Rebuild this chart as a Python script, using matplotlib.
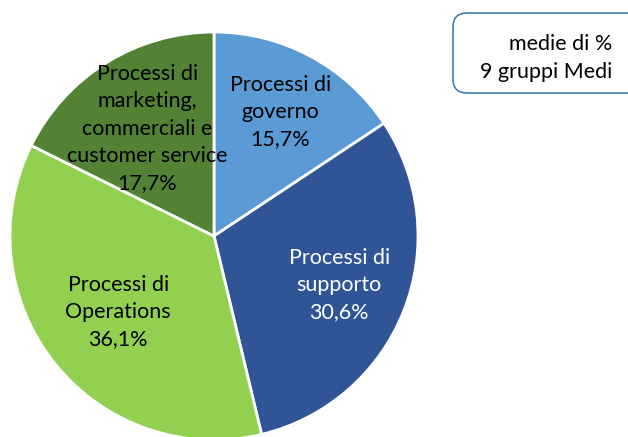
import numpy as np
import matplotlib
matplotlib.use("Agg")
import matplotlib.pyplot as plt
from matplotlib.patches import FancyBboxPatch

categories = [
    "Processi di\ngoverno",
    "Processi di\nsupporto",
    "Processi di\nOperations",
    "Processi di\nmarketing,\ncommerciali e\ncustomer service",
]
shares = [15.7, 30.6, 36.1, 17.7]
colors = ["#5B9BD5", "#2F5597", "#92D050", "#548235"]
text_colors = ["black", "white", "black", "black"]
box_lines = ["medie di %", "9 gruppi Medi"]

# label distance from centre, per slice (fraction of radius)
label_radius = [0.69, 0.66, 0.60, 0.62]

plt.rcParams["font.family"] = ["Lato", "DejaVu Sans"]

fig = plt.figure(figsize=(6.28, 4.37), dpi=100)
ax = fig.add_axes([10 / 628, -3 / 437, 408 / 628, 408 / 437])

wedges, _ = ax.pie(
    shares,
    colors=colors,
    startangle=90,
    counterclock=False,
    wedgeprops={"edgecolor": "white", "linewidth": 2.0},
)
ax.set_xlim(-1, 1)
ax.set_ylim(-1, 1)

for wedge, name, value, tcolor, r in zip(wedges, categories, shares, text_colors, label_radius):
    mid = np.deg2rad((wedge.theta1 + wedge.theta2) / 2)
    label = f"{name}\n{value:.1f}%".replace(".", ",")
    ax.text(r * np.cos(mid), r * np.sin(mid), label, ha="center", va="center",
            fontsize=15.5, color=tcolor, linespacing=1.45)

box = FancyBboxPatch((4.53, 3.44), 3.0, 0.80,
                     boxstyle="round,pad=0,rounding_size=0.14",
                     transform=fig.dpi_scale_trans, facecolor="white",
                     edgecolor="#2E75B6", linewidth=1.1)
fig.add_artist(box)
fig.text(612 / 628, 1 - 58 / 437, "\n".join(box_lines), ha="right", va="center",
         fontsize=15.5, linespacing=1.5)

fig.savefig("out.png", dpi=100)
